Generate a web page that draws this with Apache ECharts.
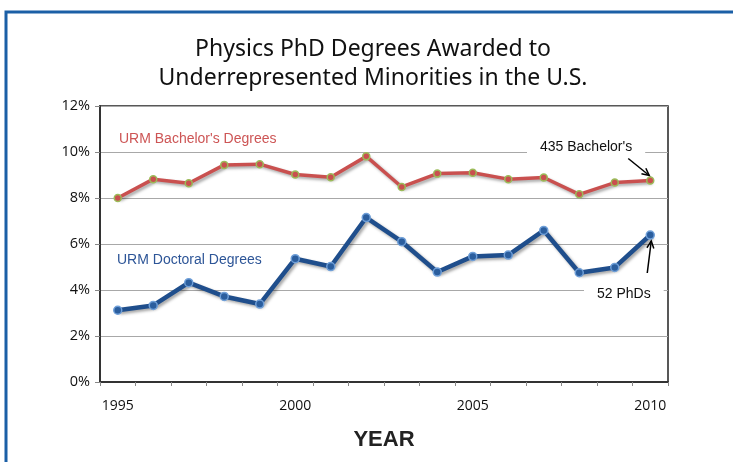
<!DOCTYPE html>
<html>
<head>
<meta charset="utf-8">
<script src="https://cdn.jsdelivr.net/npm/echarts@6/dist/echarts.min.js"></script>
<style>html,body{margin:0;padding:0;background:#fff}#c{width:733px;height:462px}</style>
</head>
<body>
<div id="c"></div>
<script>
const years = ['1995','1996','1997','1998','1999','2000','2001','2002','2003','2004','2005','2006','2007','2008','2009','2010'];
const bachelors = [8.00, 8.82, 8.64, 9.44, 9.47, 9.02, 8.90, 9.81, 8.48, 9.06, 9.10, 8.82, 8.89, 8.16, 8.67, 8.76];
const doctoral = [3.12, 3.33, 4.32, 3.72, 3.39, 5.36, 5.02, 7.15, 6.10, 4.78, 5.46, 5.52, 6.59, 4.75, 4.98, 6.39];
const yTicks = [0, 2, 4, 6, 8, 10, 12];
const titleLines = ['Physics PhD Degrees Awarded to', 'Underrepresented Minorities in the U.S.'];

const chart = echarts.init(document.getElementById('c'));
const shadow = {shadowColor:'rgba(0,0,0,0.35)', shadowBlur:3, shadowOffsetX:2, shadowOffsetY:2};

chart.setOption({
  animation:false,
  backgroundColor:'#fff',
  title:{
    text: titleLines.join('\n'),
    left: 368, top: 30, textAlign:'center',
    textStyle:{fontFamily:'Noto Sans', fontWeight:'normal', fontSize:23, lineHeight:29, color:'#111'}
  },
  grid:{left:100, top:106, width:568, height:276, show:true, borderColor:'#222', borderWidth:1.5, backgroundColor:'transparent'},
  xAxis:{
    type:'category', data: years, boundaryGap:true,
    name:'YEAR', nameLocation:'middle', nameGap:47,
    nameTextStyle:{fontFamily:'Liberation Sans', fontWeight:'bold', fontSize:22, color:'#222'},
    axisLine:{lineStyle:{color:'#333', width:2}},
    axisTick:{show:true, interval:0, length:4, lineStyle:{color:'#888'}},
    axisLabel:{interval:4, margin:17, fontFamily:'Open Sans', fontSize:14, color:'#111'},
    splitLine:{show:false}
  },
  yAxis:{
    type:'value', min: yTicks[0], max: yTicks[yTicks.length-1], interval:2,
    axisLine:{show:true, lineStyle:{color:'#333', width:2}},
    axisTick:{show:true, length:5, lineStyle:{color:'#888'}},
    axisLabel:{formatter:'{value}%', margin:10, fontFamily:'Open Sans', fontSize:14.5, color:'#111'},
    splitLine:{lineStyle:{color:'#a8a8a8', width:1}}
  },
  series:[
    {
      name:"URM Bachelor's Degrees", type:'line', data: bachelors,
      symbol:'circle', symbolSize:7,
      lineStyle:Object.assign({color:'#c9504f', width:3.5}, shadow),
      itemStyle:{color:'#c9504f', borderColor:'#9bbb59', borderWidth:1.5},
      z:3
    },
    {
      name:'URM Doctoral Degrees', type:'line', data: doctoral,
      symbol:'circle', symbolSize:8,
      lineStyle:Object.assign({color:'#1f4e8c', width:4.5}, shadow),
      itemStyle:{color:'#2b5e9e', borderColor:'#6f9fd8', borderWidth:1.5},
      z:3
    }
  ]
});

const pB = chart.convertToPixel({gridIndex:0}, [years.length-1, bachelors[bachelors.length-1]]);
const pD = chart.convertToPixel({gridIndex:0}, [years.length-1, doctoral[doctoral.length-1]]);

function arrow(x1,y1,x2,y2){
  const a = Math.atan2(y2-y1, x2-x1), L = 8, w = 0.45;
  return [
    {type:'line', shape:{x1:x1,y1:y1,x2:x2,y2:y2}, style:{stroke:'#000', lineWidth:1.5}, z:20},
    {type:'polyline', shape:{points:[[x2-L*Math.cos(a-w), y2-L*Math.sin(a-w)],[x2,y2],[x2-L*Math.cos(a+w), y2-L*Math.sin(a+w)]]}, style:{stroke:'#000', lineWidth:1.5, fill:null}, z:20}
  ];
}

chart.setOption({
  graphic:[
    {type:'rect', shape:{x:6, y:12, width:740, height:470}, style:{fill:null, stroke:'#1b5fa6', lineWidth:3}, z:30, silent:true},
    {type:'text', x:119, y:139, style:{text:"URM Bachelor's Degrees", fontFamily:'Liberation Sans', fontSize:14, fill:'#cd5555', verticalAlign:'middle'}, z:10},
    {type:'text', x:117, y:260, style:{text:'URM Doctoral Degrees', fontFamily:'Liberation Sans', fontSize:14, fill:'#2d5597', verticalAlign:'middle'}, z:10},
    {type:'text', x:527, y:147, style:{text:"435 Bachelor's", fontFamily:'Liberation Sans', fontSize:14, fill:'#111', verticalAlign:'middle', backgroundColor:'#fff', padding:[2,13,2,13]}, z:10},
    {type:'text', x:584, y:294, style:{text:'52 PhDs', fontFamily:'Liberation Sans', fontSize:14, fill:'#111', verticalAlign:'middle', backgroundColor:'#fff', padding:[2,13,2,13]}, z:10}
  ].concat(arrow(pB[0]-22, pB[1]-22, pB[0]-1, pB[1]-5))
   .concat(arrow(pD[0]-3, pD[1]+38, pD[0]+1, pD[1]+6))
});
</script>
</body>
</html>
